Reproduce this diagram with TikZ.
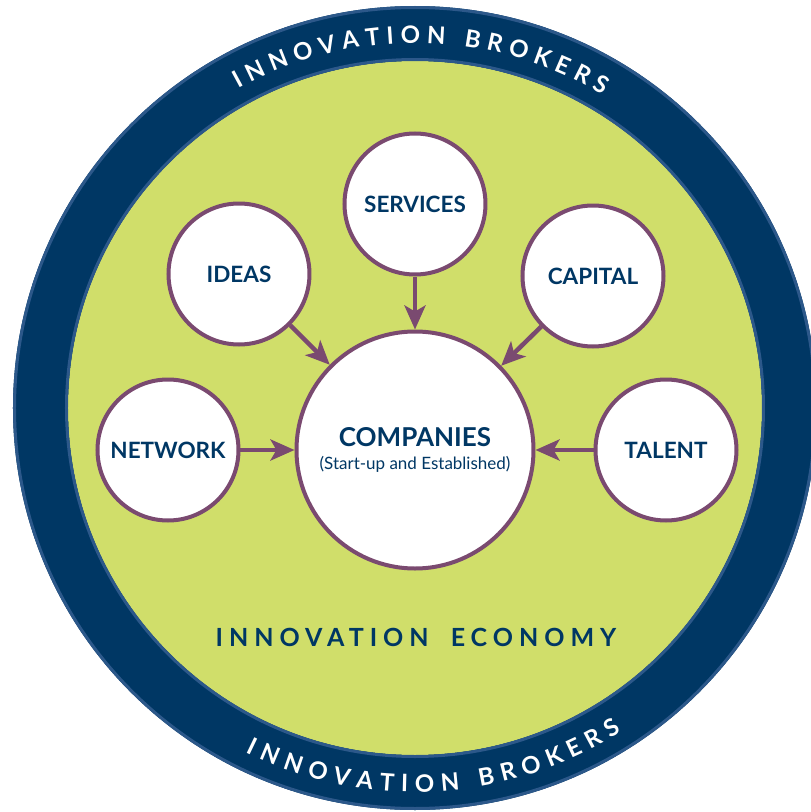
\documentclass[tikz,border=0pt]{standalone}
\usepackage{fontspec}
\setmainfont{Lato}
\usetikzlibrary{arrows.meta,decorations.text}

\definecolor{navy}{RGB}{0,55,100}
\definecolor{rimblue}{RGB}{44,88,138}
\definecolor{lime}{RGB}{208,222,106}
\definecolor{plum}{RGB}{122,74,112}

\newcommand\ringfont{\fontsize{24}{28}\selectfont\bfseries}

\tikzset{
  bubble/.style={circle, draw=plum, line width=4pt, fill=white, inner sep=0pt,
    minimum size=141pt, text=navy, font=\fontsize{22.5}{26}\selectfont\bfseries},
  feed/.style={draw=plum, line width=4.5pt, -{Stealth[length=24pt,width=21pt,inset=6pt]}},
}

\begin{document}
\begin{tikzpicture}[x=1pt,y=1pt]
\def\rOut{402}
\def\rIn{347}
\useasboundingbox (-415,-404) rectangle (396,408);

% Draw the two rings
\fill[navy] (0,0) circle (\rOut);
\draw[rimblue, line width=3pt] (0,0) circle (\rOut-1.5);
\fill[lime] (0,0) circle (\rIn);
\draw[rimblue, line width=3pt] (0,0) circle (\rIn+1.5);

% Ring text, top and bottom
\path[decorate, decoration={text along path, text align=fit to path,
  text={|\color{white}\ringfont|INNOVATION BROKERS}}]
  (119:365) arc[start angle=119, end angle=59, radius=365];
\path[decorate, decoration={text along path, text align=fit to path,
  text={|\color{white}\ringfont|INNOVATION BROKERS}}]
  (243.8:384) arc[start angle=243.8, end angle=302.5, radius=384];

% Bubbles
\node[bubble] (services) at (0,204) {SERVICES};
\node[bubble] (ideas) at (-176,134) {IDEAS};
\node[bubble] (capital) at (178,132) {CAPITAL};
\node[bubble] (network) at (-247,-42) {NETWORK};
\node[bubble] (talent) at (251,-42) {TALENT};
\node[bubble, minimum size=237pt, align=center,
  font=\fontsize{26}{23.4}\selectfont\bfseries] (companies) at (0,-42)
  {COMPANIES\\{\fontsize{17}{23.4}\selectfont\mdseries(Start-up and Established)}};

\node[text=navy, anchor=base, font=\fontsize{25}{30}\selectfont\bfseries]
  (economy) at (1,-238) {\addfontfeature{LetterSpace=24}INNOVATION\hspace{10pt} ECONOMY};

% Arrows into the companies
\foreach \src in {network,ideas,services,capital,talent}
  \draw[feed] (\src) -- (companies);

\end{tikzpicture}
\end{document}
